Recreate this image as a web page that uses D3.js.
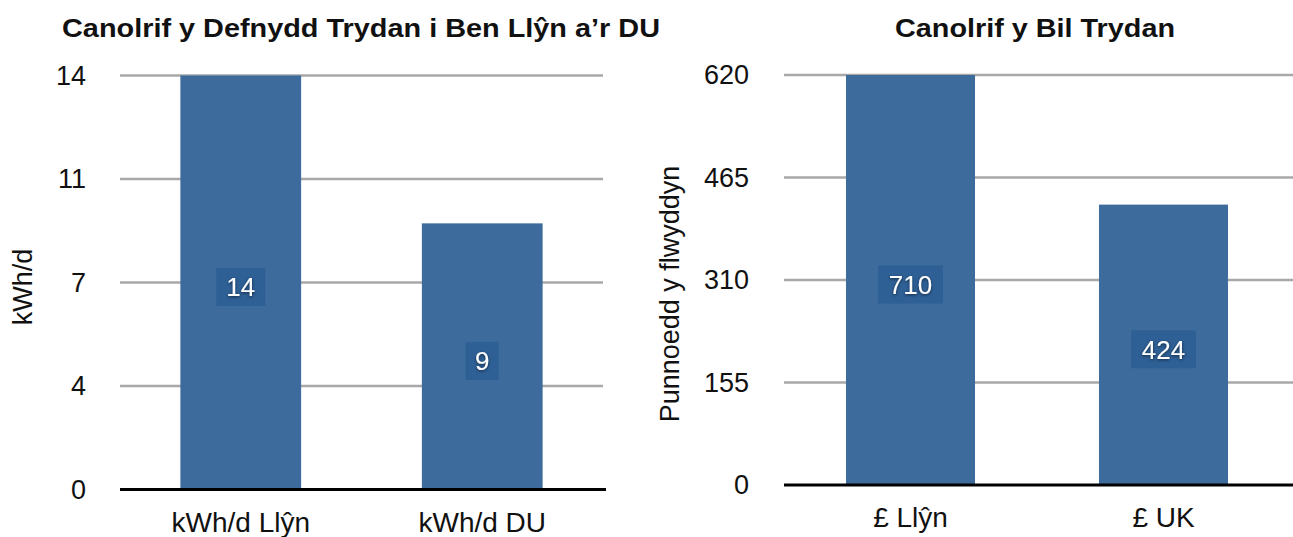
<!DOCTYPE html>
<html>
<head>
<meta charset="utf-8">
<script src="https://cdn.jsdelivr.net/npm/d3@7"></script>
<style>
    body { margin: 0; background: #fff; }
    text { font-family: "Liberation Sans", Arial, sans-serif; }
</style>
</head>
<body>
<div id="chart-container"></div>
<script>
// data for the two panels
let usageCategories = ["kWh/d Llŷn", "kWh/d DU"];
let usageValues = [14, 9];
let usageTicks = [0, 3.5, 7, 10.5, 14];
let usageTickLabels = ["0", "4", "7", "11", "14"];

let billCategories = ["£ Llŷn", "£ UK"];
let billValues = [710, 424];
let billTicks = [0, 155, 310, 465, 620];
let billTickLabels = ["0", "155", "310", "465", "620"];

let totalWidth = 1293,
    totalHeight = 537;

let barColor = "#3d6b9b";
let labelBoxColor = "#2e5f95";

let svg = d3.select("#chart-container")
    .append("svg")
    .attr("width", totalWidth)
    .attr("height", totalHeight);

let defs = svg.append("defs");
defs.append("filter")
    .attr("id", "shadow")
    .attr("x", "-50%").attr("y", "-50%")
    .attr("width", "200%").attr("height", "200%")
    .append("feDropShadow")
    .attr("dx", 0).attr("dy", 1)
    .attr("stdDeviation", 1.5)
    .attr("flood-color", "#000")
    .attr("flood-opacity", 0.6);

function drawPanel(p) {
    let g = svg.append("g");

    let x = d3.scaleBand()
        .domain(p.categories)
        .range([p.left, p.right])
        .paddingInner(p.padding)
        .paddingOuter(p.padding / 2);

    let y = d3.scaleLinear()
        .domain([0, p.ticks[p.ticks.length - 1]])
        .range([p.bottom, p.top])
        .clamp(true);

    // grid lines
    g.selectAll("line.grid")
        .data(p.ticks.slice(1))
        .enter()
        .append("line")
        .attr("class", "grid")
        .attr("x1", p.left)
        .attr("x2", p.gridRight)
        .attr("y1", d => y(d))
        .attr("y2", d => y(d))
        .style("stroke", "#a8a8a8")
        .style("stroke-width", 2.5);

    // y axis labels
    let yAxis = d3.axisLeft(y)
        .tickValues(p.ticks)
        .tickFormat((d, i) => p.tickLabels[i])
        .tickSize(0)
        .tickPadding(0);
    let ya = g.append("g")
        .attr("transform", "translate(" + p.tickX + ",0)")
        .call(yAxis);
    ya.select(".domain").remove();
    ya.selectAll("text")
        .style("font-size", "27px")
        .style("fill", "#111");

    // bars
    g.selectAll("rect.bar")
        .data(p.values)
        .enter()
        .append("rect")
        .attr("class", "bar")
        .attr("x", (d, i) => x(p.categories[i]))
        .attr("y", d => y(d))
        .attr("width", x.bandwidth())
        .attr("height", d => p.bottom - y(d))
        .style("fill", barColor);

    // baseline
    g.append("line")
        .attr("x1", p.left)
        .attr("x2", p.gridRight + 3)
        .attr("y1", p.bottom)
        .attr("y2", p.bottom)
        .style("stroke", "#000")
        .style("stroke-width", 3);

    // x axis labels
    let xAxis = d3.axisBottom(x).tickSize(0).tickPadding(0);
    let xa = g.append("g")
        .attr("transform", "translate(0," + (p.bottom + 42) + ")")
        .call(xAxis);
    xa.select(".domain").remove();
    xa.selectAll("text")
        .attr("dy", 0)
        .style("font-size", "28px")
        .style("fill", "#111");

    // value labels
    let boxW = d => String(d).length * 16 + 17;
    let labels = g.selectAll("g.vlabel")
        .data(p.values)
        .enter()
        .append("g")
        .attr("class", "vlabel")
        .attr("transform", (d, i) => "translate(" +
            (x(p.categories[i]) + x.bandwidth() / 2) + "," +
            ((y(d) + p.bottom) / 2 + 4.5) + ")");
    labels.append("rect")
        .attr("x", d => -boxW(d) / 2)
        .attr("y", -19)
        .attr("width", boxW)
        .attr("height", 38)
        .style("fill", labelBoxColor);
    labels.append("text")
        .attr("text-anchor", "middle")
        .attr("dy", "0.36em")
        .style("font-size", "26px")
        .style("fill", "#fff")
        .attr("filter", "url(#shadow)")
        .text(d => d);

    // title
    g.append("text")
        .attr("x", p.titleX)
        .attr("y", 37)
        .attr("text-anchor", "middle")
        .attr("textLength", p.titleWidth)
        .attr("lengthAdjust", "spacingAndGlyphs")
        .style("font-size", "26px")
        .style("font-weight", "bold")
        .style("fill", "#111")
        .text(p.title);

    // y axis title
    g.append("text")
        .attr("transform", "translate(" + p.yTitleX + "," + p.yTitleY + ") rotate(-90)")
        .attr("text-anchor", "middle")
        .style("font-size", "27px")
        .style("fill", "#111")
        .text(p.yTitle);
}

drawPanel({
    categories: usageCategories,
    values: usageValues,
    ticks: usageTicks,
    tickLabels: usageTickLabels,
    left: 120, right: 603, gridRight: 603,
    top: 75.5, bottom: 489.5,
    padding: 0.5,
    tickX: 86,
    title: "Canolrif y Defnydd Trydan i Ben Llŷn a’r DU",
    titleX: 361, titleWidth: 598,
    yTitle: "kWh/d",
    yTitleX: 32, yTitleY: 287
});

drawPanel({
    categories: billCategories,
    values: billValues,
    ticks: billTicks,
    tickLabels: billTickLabels,
    left: 784, right: 1290, gridRight: 1293,
    top: 75, bottom: 485,
    padding: 0.49,
    tickX: 749,
    title: "Canolrif y Bil Trydan",
    titleX: 1035, titleWidth: 280,
    yTitle: "Punnoedd y flwyddyn",
    yTitleX: 679, yTitleY: 294
});
</script>
</body>
</html>
